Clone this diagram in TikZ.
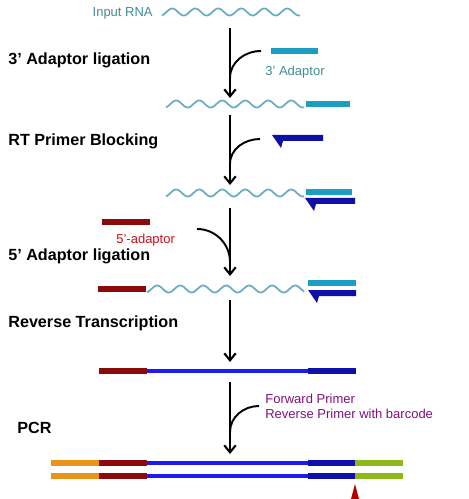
\documentclass[tikz,border=0pt]{standalone}
\usepackage{fontspec}
\setmainfont{Liberation Sans}
\usetikzlibrary{calc,arrows.meta}
\definecolor{wavecol}{HTML}{6AADC2}
\definecolor{adaptcol}{HTML}{1B9DC4}
\definecolor{primcol}{HTML}{1010A8}
\definecolor{fivecol}{HTML}{8B0A0A}
\definecolor{cdnacol}{HTML}{1A1AF2}
\definecolor{fwdcol}{HTML}{E8941A}
\definecolor{bccol}{HTML}{8DB81A}
\definecolor{tealtxt}{HTML}{3E8C94}
\definecolor{redtxt}{HTML}{C8101A}
\definecolor{purtxt}{HTML}{80107A}
\tikzset{
  steplabel/.style={anchor=west, inner sep=0pt, font=\bfseries\fontsize{9.2}{11}\selectfont},
  smalltxt/.style={inner sep=0pt, font=\fontsize{7.4}{9}\selectfont},
  flow/.style={line width=1.2pt, -{Straight Barb[length=4pt,width=6.5pt]}},
  joinline/.style={line width=1.1pt},
  wave/.style={wavecol, line width=1pt},
  bar/.style={line width=3.2pt},
  cdna/.style={cdnacol, line width=2pt}
}
% RNA wave: from x #1 to x #2 at height #3
\newcommand{\rnawave}[3]{\draw[wave] plot[domain=#1:#2,samples=120] (\x,{#3+3.5*cos((\x-#1)*15.652+20)});}
% blocking primer with hook: from x #1 to x #2 at height #3
\newcommand{\rtprimer}[3]{\fill[primcol] (#1,#3-3) -- (#2,#3-3) -- (#2,#3+3) -- (#1+11,#3+3)
  -- (#1+9,#3+10) -- cycle;}

\begin{document}
\begin{tikzpicture}[x=0.02cm,y=-0.02cm]
    \useasboundingbox (0,0) rectangle (468,499);
    % step labels
    \node[steplabel] (s1) at (8,60) {3' Adaptor ligation};
    \node[steplabel] (s2) at (8,141) {RT Primer Blocking};
    \node[steplabel] (s3) at (8,256) {5' Adaptor ligation};
    \node[steplabel] (s4) at (8,323) {Reverse Transcription};
    \node[steplabel] (s5) at (17,428) {PCR};

    % input RNA
    \node[smalltxt, text=tealtxt, anchor=east] (rna) at (153,13) {Input RNA};
    \rnawave{162}{300}{12}

    % 3' adaptor ligation
    \coordinate (a1) at (230,28);
    \coordinate (b1) at (230,98);
    \coordinate (c1) at (261,51);
    \coordinate (d1) at (230,78);
    \draw[flow] (a1) -- (b1);
    \draw[joinline] (c1) to[out=180,in=90] (d1);
    \draw[bar, adaptcol] (271,51) -- (318,51);
    \node[smalltxt, text=tealtxt, anchor=west] (ad3) at (265,72) {3' Adaptor};
    \rnawave{166}{304}{104}
    \draw[bar, adaptcol] (306,104) -- (350,104);

    % RT primer blocking
    \coordinate (a2) at (230,115);
    \coordinate (b2) at (230,185);
    \coordinate (c2) at (260,139);
    \coordinate (d2) at (230,164);
    \draw[flow] (a2) -- (b2);
    \draw[joinline] (c2) to[out=180,in=90] (d2);
    \rtprimer{272}{323}{138}
    \rnawave{166}{304}{193}
    \draw[bar, adaptcol] (306,192) -- (352,192);
    \rtprimer{305}{355}{201}

    % 5' adaptor ligation
    \draw[bar, fivecol] (102,222) -- (150,222);
    \node[smalltxt, text=redtxt, anchor=west] (ad5) at (116,240) {5'-adaptor};
    \coordinate (a3) at (230,208);
    \coordinate (b3) at (230,276);
    \coordinate (c3) at (197,229);
    \coordinate (d3) at (230,262);
    \draw[flow] (a3) -- (b3);
    \draw[joinline] (c3) to[out=0,in=90] (d3);
    \draw[bar, fivecol] (98,289) -- (146,289);
    \rnawave{147}{304}{289}
    \draw[bar, adaptcol] (308,283) -- (356,283);
    \rtprimer{308}{356}{293}

    % reverse transcription
    \coordinate (a4) at (230,300);
    \coordinate (b4) at (230,362);
    \draw[flow] (a4) -- (b4);
    \draw[cdna] (146,371) -- (309,371);
    \draw[bar, fivecol] (99,371) -- (147,371);
    \draw[bar, primcol] (308,371) -- (356,371);

    % PCR
    \coordinate (a5) at (230,382);
    \coordinate (b5) at (230,454);
    \coordinate (c5) at (259,406);
    \coordinate (d5) at (230,432);
    \draw[flow] (a5) -- (b5);
    \draw[joinline] (c5) to[out=180,in=90] (d5);
    \node[smalltxt, text=purtxt, anchor=west] (fp) at (265,399) {Forward Primer};
    \node[smalltxt, text=purtxt, anchor=west] (rp) at (265,414) {Reverse Primer with barcode};
    \foreach \yy in {463,476} {
      \draw[cdna] (146,\yy) -- (309,\yy);
      \draw[bar, fwdcol] (51,\yy) -- (99,\yy);
      \draw[bar, fivecol] (99,\yy) -- (147,\yy);
      \draw[bar, primcol] (308,\yy) -- (355,\yy);
      \draw[bar, bccol] (355,\yy) -- (403,\yy);
    }
    \fill[red!70!black] (355,484) -- (359,499) -- (351,499) -- cycle;
\end{tikzpicture}
\end{document}
